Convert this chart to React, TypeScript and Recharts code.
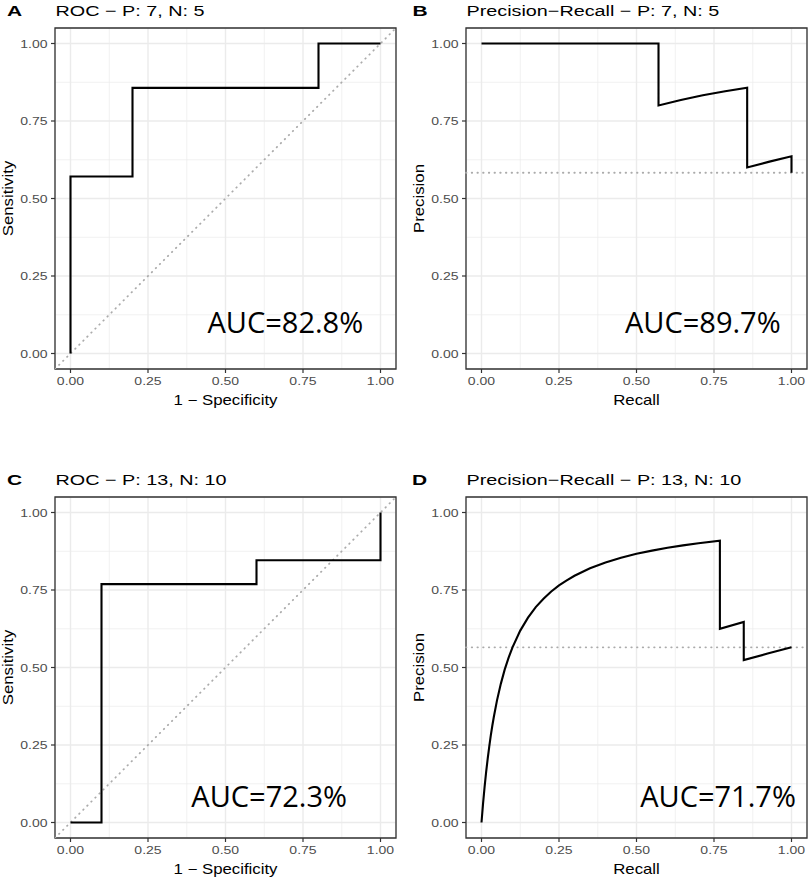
import React from 'react';
import {
  LineChart, Line, XAxis, YAxis, CartesianGrid, ReferenceLine, ReferenceArea, ReferenceDot, Label,
} from 'recharts';

// shared axis breaks
const axisTicks = [0, 0.25, 0.5, 0.75, 1];
const minorTicks = [0.125, 0.375, 0.625, 0.875];
const domain: [number, number] = [-0.05, 1.05];

// A: ROC, P 7 / N 5
const rocAFpr = [0, 0, 0.2, 0.2, 0.8, 0.8, 1];
const rocATpr = [0, 0.571, 0.571, 0.857, 0.857, 1, 1];

// B: precision-recall, P 7 / N 5
const prBRecall = [0, 0.571, 0.571, 0.643, 0.714, 0.786, 0.857, 0.857, 0.929, 1, 1];
const prBPrecision = [1, 1, 0.8, 0.818, 0.833, 0.846, 0.857, 0.6, 0.619, 0.636, 0.583];

// C: ROC, P 13 / N 10
const rocCFpr = [0, 0.1, 0.1, 0.6, 0.6, 1, 1];
const rocCTpr = [0, 0, 0.769, 0.769, 0.846, 0.846, 1];

// D: precision-recall, P 13 / N 10
const prDRecall = [
  0, 0.005, 0.01, 0.015, 0.02, 0.025, 0.03, 0.035, 0.04, 0.05, 0.0625, 0.075, 0.0875, 0.1, 0.125, 0.15, 0.175,
  0.2, 0.225, 0.25, 0.275, 0.3, 0.35, 0.4, 0.45, 0.5, 0.55, 0.6, 0.65, 0.7, 0.769, 0.769, 0.846, 0.846, 0.923, 1,
];
const prDPrecision = [
  0, 0.061, 0.115, 0.163, 0.206, 0.245, 0.281, 0.313, 0.342, 0.394, 0.448, 0.494, 0.532, 0.565, 0.619, 0.661, 0.695,
  0.722, 0.745, 0.765, 0.781, 0.796, 0.82, 0.839, 0.854, 0.867, 0.877, 0.886, 0.894, 0.901, 0.909, 0.625, 0.647, 0.524, 0.545, 0.565,
];

const toPoints = (xs: number[], ys: number[]) => xs.map((x, i) => ({ x, y: ys[i] }));

const SANS = '"Liberation Sans", Arial, sans-serif';
const TEXT_SX = 1.32;

// text widened horizontally to match the wide rendering of the original
function SText({ x, y, sx = TEXT_SX, angle = 0, anchor = 'start', size, weight = 'normal', fill = '#000', family = SANS, children }: any) {
  return (
    <text
      transform={`translate(${x},${y}) rotate(${angle}) scale(${sx},1)`}
      textAnchor={anchor}
      fontSize={size}
      fontWeight={weight}
      fill={fill}
      fontFamily={family}
    >
      {children}
    </text>
  );
}

const XTick = (p: any) => (
  <SText x={p.x} y={p.y + 12} anchor="middle" size={11.5} sx={1.22} fill="#4D4D4D">
    {Number(p.payload.value).toFixed(2)}
  </SText>
);

const YTick = (p: any) => (
  <SText x={p.x - 3.5} y={p.y + 4.1} anchor="end" size={11.5} sx={1.22} fill="#4D4D4D">
    {Number(p.payload.value).toFixed(2)}
  </SText>
);

const dotted = { stroke: '#ABABAB', strokeWidth: 1.8, strokeDasharray: '0.5 5.2', strokeLinecap: 'round' as const };

function Panel({ left, top, letter, letterX, title, xTitle, yTitle, data, kind, baseline, auc, aucX, aucY }: any) {
  return (
    <div style={{ position: 'absolute', left, top, width: 398, height: 420 }}>
      <LineChart width={398} height={420} data={data} margin={{ top: 28, right: 2, bottom: 11, left: 0 }}>
        <CartesianGrid verticalValues={minorTicks} horizontalValues={minorTicks} stroke="#EBEBEB" strokeWidth={0.7} fill="none" />
        <CartesianGrid stroke="#EBEBEB" strokeWidth={1.4} fill="none" />
        <XAxis
          dataKey="x"
          type="number"
          domain={domain}
          ticks={axisTicks}
          interval={0}
          allowDataOverflow
          height={40}
          tickSize={4}
          tickMargin={0}
          axisLine={false}
          tickLine={{ stroke: '#333333', strokeWidth: 1.2 }}
          tick={XTick}
        >
          <Label
            content={(p: any) => (
              <SText x={p.viewBox.x + p.viewBox.width / 2} y={p.viewBox.y + 35.5} anchor="middle" size={14} sx={1.2}>
                {xTitle}
              </SText>
            )}
          />
        </XAxis>
        <YAxis
          type="number"
          domain={domain}
          ticks={axisTicks}
          interval={0}
          allowDataOverflow
          width={55}
          tickSize={4}
          tickMargin={0}
          axisLine={false}
          tickLine={{ stroke: '#333333', strokeWidth: 1.2 }}
          tick={YTick}
        >
          <Label
            content={(p: any) => (
              <SText x={p.viewBox.x + 12.5} y={p.viewBox.y + p.viewBox.height / 2} angle={-90} anchor="middle" size={14} sx={1.2}>
                {yTitle}
              </SText>
            )}
          />
        </YAxis>
        {kind === 'roc' ? (
          <ReferenceLine segment={[{ x: -0.05, y: -0.05 }, { x: 1.05, y: 1.05 }]} ifOverflow="hidden" {...dotted} />
        ) : (
          <ReferenceLine y={baseline} {...dotted} />
        )}
        <Line type="linear" dataKey="y" stroke="#000000" strokeWidth={2.1} dot={false} isAnimationActive={false} />
        <ReferenceArea x1={-0.05} x2={1.05} y1={-0.05} y2={1.05} fill="none" stroke="#333333" strokeWidth={1.3} ifOverflow="visible" />
        <ReferenceDot
          x={aucX}
          y={aucY}
          r={0}
          shape={(p: any) => (
            <text x={p.cx} y={p.cy + 10.3} textAnchor="middle" fontSize={29} fontFamily='"Open Sans", sans-serif' fill="#000">
              {auc}
            </text>
          )}
        />
      </LineChart>
      <svg width={398} height={28} style={{ position: 'absolute', left: 0, top: 0, pointerEvents: 'none' }}>
        <SText x={letterX} y={15.5} size={15} weight="bold" sx={1.4}>{letter}</SText>
        <SText x={55.5} y={15.5} size={15}>{title}</SText>
      </svg>
    </div>
  );
}

export default function App() {
  return (
    <div style={{ position: 'absolute', left: 0, top: 0, width: 809, height: 879, background: '#fff' }}>
      <Panel left={0} top={0} letter="A" letterX={7} title="ROC − P: 7, N: 5" xTitle="1 − Specificity" yTitle="Sensitivity"
        data={toPoints(rocAFpr, rocATpr)} kind="roc" auc="AUC=82.8%" aucX={0.693} aucY={0.098} />
      <Panel left={411} top={0} letter="B" letterX={1.5} title="Precision−Recall − P: 7, N: 5" xTitle="Recall" yTitle="Precision"
        data={toPoints(prBRecall, prBPrecision)} kind="pr" baseline={0.583} auc="AUC=89.7%" aucX={0.714} aucY={0.1} />
      <Panel left={0} top={469.3} letter="C" letterX={7} title="ROC − P: 13, N: 10" xTitle="1 − Specificity" yTitle="Sensitivity"
        data={toPoints(rocCFpr, rocCTpr)} kind="roc" auc="AUC=72.3%" aucX={0.641} aucY={0.084} />
      <Panel left={411.3} top={469.3} letter="D" letterX={1} title="Precision−Recall − P: 13, N: 10" xTitle="Recall" yTitle="Precision"
        data={toPoints(prDRecall, prDPrecision)} kind="pr" baseline={0.565} auc="AUC=71.7%" aucX={0.763} aucY={0.084} />
    </div>
  );
}
